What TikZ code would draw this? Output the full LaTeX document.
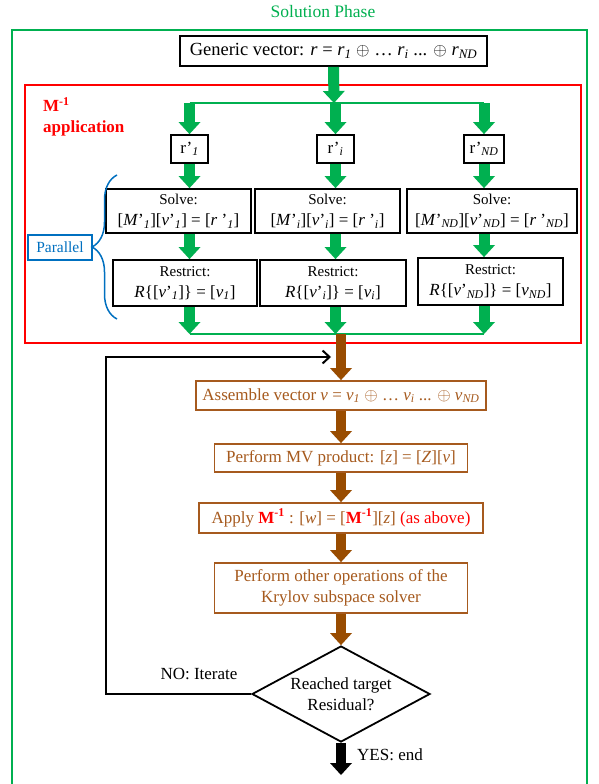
\documentclass[tikz,border=0pt]{standalone}
\usepackage{fontspec}
\setmainfont{Liberation Serif}
\usetikzlibrary{arrows.meta,shapes.geometric,decorations.pathreplacing}
\definecolor{pgreen}{RGB}{0,176,80}
\definecolor{pred}{RGB}{255,0,0}
\definecolor{pblue}{RGB}{0,112,192}
\definecolor{pbrown}{RGB}{153,76,0}
\definecolor{pbrowntxt}{RGB}{166,90,30}
\newcommand\iv[1]{\textit{#1}}
\newcommand\sbi[1]{\textsubscript{\textit{#1}}}
\newcommand\fs[1]{\fontsize{#1}{21}\selectfont}
\begin{document}
\begin{tikzpicture}[x=1pt,y=-1pt,
  box/.style={draw, line width=1.8pt, inner sep=0pt, align=center, font=\fs{17}},
  kbox/.style={box, draw=black},
  bbox/.style={box, draw=pbrowntxt, text=pbrowntxt},
  garrow/.style={draw=pgreen, line width=11pt, -{Triangle[width=22pt,length=12pt,line width=0pt]}},
  barrow/.style={draw=pbrown, line width=10pt, -{Triangle[width=22pt,length=12pt,line width=0pt]}},
  karrow/.style={draw=black, line width=10pt, -{Triangle[width=22pt,length=12pt,line width=0pt]}},
  gline/.style={draw=pgreen, line width=2pt},
  hdr/.style={font=\fs{15}}
  ]
\useasboundingbox (0,0) rectangle (598,784);
\fill[white] (0,0) rectangle (598,784);

% frames
\node[text=pgreen, font=\fs{17.5}] (title) at (323,12) {Solution Phase};
\draw[pgreen, line width=2.5pt] (12,784) -- (12,30) -- (587,30) -- (587,784);
\draw[pred, line width=2.5pt] (25,85) rectangle (581,343);
\node[anchor=north west, text=pred, font=\bfseries\fs{17}, align=left, inner sep=0pt] (minv) at (43,97)
  {M\textsuperscript{-1}\\application};

% generic vector
\node[kbox, minimum width=307pt, minimum height=30pt, font=\fs{18.5}] (gen) at (333.5,51)
  {Generic vector: \iv{r} = \iv{r}\sbi{1} $\oplus$ … \iv{r}\sbi{i} ... $\oplus$ \iv{r}\sbi{ND}};

% r' boxes
\node[kbox, minimum width=37pt, minimum height=28pt] (r1) at (189.5,149) {r’\sbi{1}};
\node[kbox, minimum width=37pt, minimum height=28pt] (ri) at (335.5,149) {r’\sbi{i}};
\node[kbox, minimum width=40pt, minimum height=28pt] (rN) at (484,149) {r’\sbi{ND}};

% solve boxes
\node[kbox, minimum width=145pt, minimum height=44pt] (s1) at (178.5,211)
  {{\fs{15}Solve:}\\{}[\iv{M}’\sbi{1}][\iv{v}’\sbi{1}] = [\iv{r} ’\sbi{1}]};
\node[kbox, minimum width=145pt, minimum height=44pt] (si) at (327.5,211)
  {{\fs{15}Solve:}\\{}[\iv{M}’\sbi{i}][\iv{v}’\sbi{i}] = [\iv{r} ’\sbi{i}]};
\node[kbox, minimum width=170pt, minimum height=44pt] (sN) at (492,211)
  {{\fs{15}Solve:}\\{}[\iv{M}’\sbi{ND}][\iv{v}’\sbi{ND}] = [\iv{r} ’\sbi{ND}]};

% restrict boxes
\node[kbox, minimum width=144pt, minimum height=46pt] (q1) at (185,283)
  {{\fs{15}Restrict:}\\\iv{R}\{[\iv{v}’\sbi{1}]\} = [\iv{v}\sbi{1}]};
\node[kbox, minimum width=146pt, minimum height=46pt] (qi) at (333,283)
  {{\fs{15}Restrict:}\\\iv{R}\{[\iv{v}’\sbi{i}]\} = [\iv{v}\sbi{i}]};
\node[kbox, minimum width=145pt, minimum height=47pt] (qN) at (490.5,281.5)
  {{\fs{15}Restrict:}\\\iv{R}\{[\iv{v}’\sbi{ND}]\} = [\iv{v}\sbi{ND}]};

% parallel label and brace
\node[draw=pblue, text=pblue, line width=1.5pt, minimum width=64pt, minimum height=25pt, inner sep=0pt, font=\fs{15.5}] (par) at (60,247.5) {Parallel};
\draw[pblue, line width=1.5pt, decorate, decoration={brace, amplitude=25pt, aspect=0.5}] (117,319) -- (117,175);

% green split
\coordinate (split) at (334,103);
\draw[garrow] (gen.south) -- (split);
\draw[gline] (r1.north |- split) -- (rN.north |- split);
\draw[garrow] (r1.north |- split) -- (r1.north);
\draw[garrow] (ri.north |- split) -- (ri.north);
\draw[garrow] (rN.north |- split) -- (rN.north);

\draw[garrow] (r1.south) -- (r1.south |- s1.north);
\draw[garrow] (ri.south) -- (ri.south |- si.north);
\draw[garrow] (rN.south) -- (rN.south |- sN.north);
\draw[garrow] (r1.south |- s1.south) -- (r1.south |- q1.north);
\draw[garrow] (ri.south |- si.south) -- (ri.south |- qi.north);
\draw[garrow] (rN.south |- sN.south) -- (rN.south |- qN.north);

% green join
\coordinate (join) at (338,334);
\draw[gline] (r1.south |- join) -- (rN.south |- join);
\draw[garrow] (r1.south |- q1.south) -- (r1.south |- join);
\draw[garrow] (ri.south |- qi.south) -- (ri.south |- join);
\draw[garrow] (rN.south |- qN.south) -- (rN.south |- join);

% brown boxes
\node[bbox, minimum width=290pt, minimum height=29pt] (asm) at (341,395.5)
  {Assemble vector \iv{v} = \iv{v}\sbi{1} $\oplus$ … \iv{v}\sbi{i} ... $\oplus$ \iv{v}\sbi{ND}};
\node[bbox, minimum width=253pt, minimum height=28pt] (mv) at (341,458)
  {Perform MV product: [\iv{z}] = [\iv{Z}][\iv{v}]};
\node[bbox, minimum width=284pt, minimum height=30pt] (app) at (341,518)
  {Apply \textcolor{pred}{\textbf{M\textsuperscript{-1}}} : [\iv{w}] = [\textcolor{pred}{\textbf{M\textsuperscript{-1}}}][\iv{z}] \textcolor{pred}{(as above)}};
\node[bbox, minimum width=253pt, minimum height=50pt] (perf) at (341,588)
  {Perform other operations of the\\Krylov subspace solver};
\node[draw=black, line width=1.8pt, shape=diamond, aspect=1.85, inner sep=0pt,
  minimum width=178pt, minimum height=96pt, align=center, font=\fs{17}] (dec) at (341,694)
  {Reached target\\Residual?};

\draw[barrow] (asm.north |- join) -- (asm.north);
\draw[barrow] (asm.south) -- (mv.north);
\draw[barrow] (mv.south) -- (app.north);
\draw[barrow] (app.south) -- (perf.north);
\draw[barrow] (perf.south) -- (dec.north);

% feedback loop
\coordinate (fb) at (106,357);
\coordinate (fbend) at (331,357);
\draw[black, line width=2pt, -{Straight Barb[length=7pt,width=13pt]}] (dec.west) -| (fb) -- (fbend);
\node[font=\fs{17}] (no) at (199,674) {NO: Iterate};

% end
\coordinate (endpt) at (341,775);
\draw[karrow] (dec.south) -- (endpt);
\node[font=\fs{17}] (yes) at (390,755) {YES: end};
\end{tikzpicture}
\end{document}
